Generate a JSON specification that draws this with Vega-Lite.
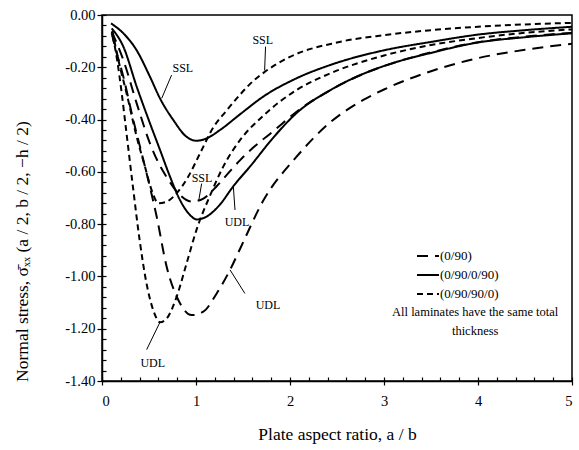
{
  "$schema": "https://vega.github.io/schema/vega-lite/v6.json",
  "width": 470,
  "height": 366,
  "autosize": "none",
  "padding": {"left": 102, "top": 15, "right": 7, "bottom": 69},
  "background": "white",
  "config": {
    "view": {"stroke": "black", "strokeWidth": 1.5},
    "font": "Liberation Serif",
    "axis": {"grid": false, "domainColor": "black", "domainWidth": 1.5, "tickColor": "black", "tickWidth": 1.2, "labelColor": "black", "labelFont": "Liberation Serif", "labelFontSize": 14.5, "titleFont": "Liberation Serif", "titleFontWeight": "normal", "titleColor": "black", "titleFontSize": 17}
  },
  "datasets": {
    "curves": [
      {"laminate": "(0/90)", "load": "SSL", "x": 0.103, "y": -0.064},
      {"laminate": "(0/90)", "load": "SSL", "x": 0.227, "y": -0.172},
      {"laminate": "(0/90)", "load": "SSL", "x": 0.369, "y": -0.338},
      {"laminate": "(0/90)", "load": "SSL", "x": 0.51, "y": -0.491},
      {"laminate": "(0/90)", "load": "SSL", "x": 0.6, "y": -0.565},
      {"laminate": "(0/90)", "load": "SSL", "x": 0.688, "y": -0.62},
      {"laminate": "(0/90)", "load": "SSL", "x": 0.83, "y": -0.689},
      {"laminate": "(0/90)", "load": "SSL", "x": 0.954, "y": -0.714},
      {"laminate": "(0/90)", "load": "SSL", "x": 1.078, "y": -0.702},
      {"laminate": "(0/90)", "load": "SSL", "x": 1.22, "y": -0.655},
      {"laminate": "(0/90)", "load": "SSL", "x": 1.36, "y": -0.598},
      {"laminate": "(0/90)", "load": "SSL", "x": 1.47, "y": -0.555},
      {"laminate": "(0/90)", "load": "SSL", "x": 1.6, "y": -0.51},
      {"laminate": "(0/90)", "load": "SSL", "x": 1.82, "y": -0.445},
      {"laminate": "(0/90)", "load": "SSL", "x": 2.07, "y": -0.37},
      {"laminate": "(0/90)", "load": "SSL", "x": 2.43, "y": -0.287},
      {"laminate": "(0/90)", "load": "SSL", "x": 2.78, "y": -0.225},
      {"laminate": "(0/90)", "load": "SSL", "x": 3.13, "y": -0.18},
      {"laminate": "(0/90)", "load": "SSL", "x": 3.5, "y": -0.143},
      {"laminate": "(0/90)", "load": "SSL", "x": 4.0, "y": -0.104},
      {"laminate": "(0/90)", "load": "SSL", "x": 4.5, "y": -0.083},
      {"laminate": "(0/90)", "load": "SSL", "x": 5.0, "y": -0.068},

      {"laminate": "(0/90)", "load": "UDL", "x": 0.103, "y": -0.07},
      {"laminate": "(0/90)", "load": "UDL", "x": 0.138, "y": -0.121},
      {"laminate": "(0/90)", "load": "UDL", "x": 0.227, "y": -0.236},
      {"laminate": "(0/90)", "load": "UDL", "x": 0.333, "y": -0.402},
      {"laminate": "(0/90)", "load": "UDL", "x": 0.44, "y": -0.555},
      {"laminate": "(0/90)", "load": "UDL", "x": 0.582, "y": -0.772},
      {"laminate": "(0/90)", "load": "UDL", "x": 0.688, "y": -0.963},
      {"laminate": "(0/90)", "load": "UDL", "x": 0.812, "y": -1.09},
      {"laminate": "(0/90)", "load": "UDL", "x": 0.954, "y": -1.148},
      {"laminate": "(0/90)", "load": "UDL", "x": 1.078, "y": -1.135},
      {"laminate": "(0/90)", "load": "UDL", "x": 1.22, "y": -1.065},
      {"laminate": "(0/90)", "load": "UDL", "x": 1.362, "y": -0.975},
      {"laminate": "(0/90)", "load": "UDL", "x": 1.468, "y": -0.895},
      {"laminate": "(0/90)", "load": "UDL", "x": 1.716, "y": -0.71},
      {"laminate": "(0/90)", "load": "UDL", "x": 2.07, "y": -0.542},
      {"laminate": "(0/90)", "load": "UDL", "x": 2.43, "y": -0.41},
      {"laminate": "(0/90)", "load": "UDL", "x": 2.78, "y": -0.325},
      {"laminate": "(0/90)", "load": "UDL", "x": 3.0, "y": -0.285},
      {"laminate": "(0/90)", "load": "UDL", "x": 3.5, "y": -0.215},
      {"laminate": "(0/90)", "load": "UDL", "x": 4.0, "y": -0.165},
      {"laminate": "(0/90)", "load": "UDL", "x": 4.5, "y": -0.133},
      {"laminate": "(0/90)", "load": "UDL", "x": 5.0, "y": -0.11},

      {"laminate": "(0/90/0/90)", "load": "SSL", "x": 0.096, "y": -0.032},
      {"laminate": "(0/90/0/90)", "load": "SSL", "x": 0.227, "y": -0.07},
      {"laminate": "(0/90/0/90)", "load": "SSL", "x": 0.367, "y": -0.134},
      {"laminate": "(0/90/0/90)", "load": "SSL", "x": 0.51, "y": -0.236},
      {"laminate": "(0/90/0/90)", "load": "SSL", "x": 0.617, "y": -0.319},
      {"laminate": "(0/90/0/90)", "load": "SSL", "x": 0.759, "y": -0.402},
      {"laminate": "(0/90/0/90)", "load": "SSL", "x": 0.9, "y": -0.466},
      {"laminate": "(0/90/0/90)", "load": "SSL", "x": 1.007, "y": -0.481},
      {"laminate": "(0/90/0/90)", "load": "SSL", "x": 1.113, "y": -0.472},
      {"laminate": "(0/90/0/90)", "load": "SSL", "x": 1.255, "y": -0.44},
      {"laminate": "(0/90/0/90)", "load": "SSL", "x": 1.468, "y": -0.38},
      {"laminate": "(0/90/0/90)", "load": "SSL", "x": 1.716, "y": -0.312},
      {"laminate": "(0/90/0/90)", "load": "SSL", "x": 2.07, "y": -0.242},
      {"laminate": "(0/90/0/90)", "load": "SSL", "x": 2.43, "y": -0.191},
      {"laminate": "(0/90/0/90)", "load": "SSL", "x": 3.0, "y": -0.135},
      {"laminate": "(0/90/0/90)", "load": "SSL", "x": 3.5, "y": -0.103},
      {"laminate": "(0/90/0/90)", "load": "SSL", "x": 4.0, "y": -0.075},
      {"laminate": "(0/90/0/90)", "load": "SSL", "x": 4.5, "y": -0.058},
      {"laminate": "(0/90/0/90)", "load": "SSL", "x": 5.0, "y": -0.045},

      {"laminate": "(0/90/0/90)", "load": "UDL", "x": 0.103, "y": -0.051},
      {"laminate": "(0/90/0/90)", "load": "UDL", "x": 0.227, "y": -0.121},
      {"laminate": "(0/90/0/90)", "load": "UDL", "x": 0.369, "y": -0.274},
      {"laminate": "(0/90/0/90)", "load": "UDL", "x": 0.51, "y": -0.414},
      {"laminate": "(0/90/0/90)", "load": "UDL", "x": 0.617, "y": -0.516},
      {"laminate": "(0/90/0/90)", "load": "UDL", "x": 0.723, "y": -0.618},
      {"laminate": "(0/90/0/90)", "load": "UDL", "x": 0.83, "y": -0.708},
      {"laminate": "(0/90/0/90)", "load": "UDL", "x": 0.936, "y": -0.765},
      {"laminate": "(0/90/0/90)", "load": "UDL", "x": 1.007, "y": -0.782},
      {"laminate": "(0/90/0/90)", "load": "UDL", "x": 1.113, "y": -0.771},
      {"laminate": "(0/90/0/90)", "load": "UDL", "x": 1.255, "y": -0.725},
      {"laminate": "(0/90/0/90)", "load": "UDL", "x": 1.397, "y": -0.655},
      {"laminate": "(0/90/0/90)", "load": "UDL", "x": 1.574, "y": -0.58},
      {"laminate": "(0/90/0/90)", "load": "UDL", "x": 1.82, "y": -0.47},
      {"laminate": "(0/90/0/90)", "load": "UDL", "x": 2.07, "y": -0.375},
      {"laminate": "(0/90/0/90)", "load": "UDL", "x": 2.43, "y": -0.287},
      {"laminate": "(0/90/0/90)", "load": "UDL", "x": 2.78, "y": -0.225},
      {"laminate": "(0/90/0/90)", "load": "UDL", "x": 3.13, "y": -0.18},
      {"laminate": "(0/90/0/90)", "load": "UDL", "x": 3.5, "y": -0.145},
      {"laminate": "(0/90/0/90)", "load": "UDL", "x": 4.0, "y": -0.105},
      {"laminate": "(0/90/0/90)", "load": "UDL", "x": 4.5, "y": -0.085},
      {"laminate": "(0/90/0/90)", "load": "UDL", "x": 5.0, "y": -0.07},

      {"laminate": "(0/90/90/0)", "load": "SSL", "x": 0.11, "y": -0.06},
      {"laminate": "(0/90/90/0)", "load": "SSL", "x": 0.174, "y": -0.172},
      {"laminate": "(0/90/90/0)", "load": "SSL", "x": 0.262, "y": -0.3},
      {"laminate": "(0/90/90/0)", "load": "SSL", "x": 0.369, "y": -0.466},
      {"laminate": "(0/90/90/0)", "load": "SSL", "x": 0.457, "y": -0.58},
      {"laminate": "(0/90/90/0)", "load": "SSL", "x": 0.528, "y": -0.67},
      {"laminate": "(0/90/90/0)", "load": "SSL", "x": 0.6, "y": -0.72},
      {"laminate": "(0/90/90/0)", "load": "SSL", "x": 0.688, "y": -0.714},
      {"laminate": "(0/90/90/0)", "load": "SSL", "x": 0.794, "y": -0.682},
      {"laminate": "(0/90/90/0)", "load": "SSL", "x": 0.918, "y": -0.618},
      {"laminate": "(0/90/90/0)", "load": "SSL", "x": 1.043, "y": -0.529},
      {"laminate": "(0/90/90/0)", "load": "SSL", "x": 1.184, "y": -0.43},
      {"laminate": "(0/90/90/0)", "load": "SSL", "x": 1.326, "y": -0.365},
      {"laminate": "(0/90/90/0)", "load": "SSL", "x": 1.468, "y": -0.305},
      {"laminate": "(0/90/90/0)", "load": "SSL", "x": 1.6, "y": -0.255},
      {"laminate": "(0/90/90/0)", "load": "SSL", "x": 1.73, "y": -0.218},
      {"laminate": "(0/90/90/0)", "load": "SSL", "x": 2.0, "y": -0.16},
      {"laminate": "(0/90/90/0)", "load": "SSL", "x": 2.5, "y": -0.105},
      {"laminate": "(0/90/90/0)", "load": "SSL", "x": 3.0, "y": -0.077},
      {"laminate": "(0/90/90/0)", "load": "SSL", "x": 3.5, "y": -0.058},
      {"laminate": "(0/90/90/0)", "load": "SSL", "x": 4.0, "y": -0.045},
      {"laminate": "(0/90/90/0)", "load": "SSL", "x": 4.5, "y": -0.036},
      {"laminate": "(0/90/90/0)", "load": "SSL", "x": 5.0, "y": -0.03},

      {"laminate": "(0/90/90/0)", "load": "UDL", "x": 0.114, "y": -0.08},
      {"laminate": "(0/90/90/0)", "load": "UDL", "x": 0.16, "y": -0.17},
      {"laminate": "(0/90/90/0)", "load": "UDL", "x": 0.21, "y": -0.3},
      {"laminate": "(0/90/90/0)", "load": "UDL", "x": 0.26, "y": -0.45},
      {"laminate": "(0/90/90/0)", "load": "UDL", "x": 0.33, "y": -0.66},
      {"laminate": "(0/90/90/0)", "load": "UDL", "x": 0.4, "y": -0.86},
      {"laminate": "(0/90/90/0)", "load": "UDL", "x": 0.47, "y": -1.02},
      {"laminate": "(0/90/90/0)", "load": "UDL", "x": 0.546, "y": -1.13},
      {"laminate": "(0/90/90/0)", "load": "UDL", "x": 0.617, "y": -1.175},
      {"laminate": "(0/90/90/0)", "load": "UDL", "x": 0.69, "y": -1.16},
      {"laminate": "(0/90/90/0)", "load": "UDL", "x": 0.794, "y": -1.078},
      {"laminate": "(0/90/90/0)", "load": "UDL", "x": 0.9, "y": -0.95},
      {"laminate": "(0/90/90/0)", "load": "UDL", "x": 1.007, "y": -0.82},
      {"laminate": "(0/90/90/0)", "load": "UDL", "x": 1.15, "y": -0.69},
      {"laminate": "(0/90/90/0)", "load": "UDL", "x": 1.29, "y": -0.58},
      {"laminate": "(0/90/90/0)", "load": "UDL", "x": 1.47, "y": -0.478},
      {"laminate": "(0/90/90/0)", "load": "UDL", "x": 1.716, "y": -0.385},
      {"laminate": "(0/90/90/0)", "load": "UDL", "x": 2.07, "y": -0.287},
      {"laminate": "(0/90/90/0)", "load": "UDL", "x": 2.43, "y": -0.223},
      {"laminate": "(0/90/90/0)", "load": "UDL", "x": 3.0, "y": -0.155},
      {"laminate": "(0/90/90/0)", "load": "UDL", "x": 3.5, "y": -0.115},
      {"laminate": "(0/90/90/0)", "load": "UDL", "x": 4.0, "y": -0.088},
      {"laminate": "(0/90/90/0)", "load": "UDL", "x": 4.5, "y": -0.068},
      {"laminate": "(0/90/90/0)", "load": "UDL", "x": 5.0, "y": -0.055}
    ],
    "labels": [
      {"text": "SSL", "x": 1.71, "y": -0.096},
      {"text": "SSL", "x": 0.86, "y": -0.203},
      {"text": "SSL", "x": 1.064, "y": -0.624},
      {"text": "UDL", "x": 1.436, "y": -0.79},
      {"text": "UDL", "x": 0.54, "y": -1.33},
      {"text": "UDL", "x": 1.766, "y": -1.11}
    ],
    "leaders": [
      {"x": 1.74, "y": -0.121, "x2": 1.73, "y2": -0.212},
      {"x": 0.74, "y": -0.23, "x2": 0.635, "y2": -0.319},
      {"x": 1.06, "y": -0.645, "x2": 1.03, "y2": -0.708},
      {"x": 1.415, "y": -0.746, "x2": 1.397, "y2": -0.655},
      {"x": 0.475, "y": -1.28, "x2": 0.617, "y2": -1.175},
      {"x": 1.52, "y": -1.065, "x2": 1.362, "y2": -0.975}
    ],
    "note": [
      {"text": "All laminates have the same total", "x": 3.97, "y": -1.136},
      {"text": "thickness", "x": 3.97, "y": -1.21}
    ]
  },
  "resolve": {"axis": {"x": "independent", "y": "independent"}},
  "layer": [
    {
      "data": {"name": "curves"},
      "mark": {"type": "line", "color": "black", "strokeWidth": 2, "interpolate": "monotone", "clip": true},
      "encoding": {
        "x": {"field": "x", "type": "quantitative", "scale": {"domain": [0, 5], "nice": false},
          "axis": {"orient": "bottom", "values": [0, 1, 2, 3, 4, 5], "tickSize": 4, "labelPadding": 9, "title": "Plate aspect ratio, a / b", "titlePadding": 18, "titleFontSize": 17.5, "format": "d"}},
        "y": {"field": "y", "type": "quantitative", "scale": {"domain": [-1.4, 0], "nice": false, "zero": false},
          "axis": {"orient": "left", "values": [0, -0.2, -0.4, -0.6, -0.8, -1.0, -1.2, -1.4], "tickSize": 5, "labelPadding": 2,
            "labelExpr": "datum.value == 0 ? '0.00' : '-' + format(-datum.value, '.2f')",
            "title": "Normal stress, σ̄ₓₓ (a / 2, b / 2, −h / 2)", "titleX": -80, "titleY": 236, "titleBaseline": "middle", "titleAlign": "center", "titleAngle": -90, "titleFontSize": 17.5}},
        "strokeDash": {"field": "laminate", "type": "nominal",
          "scale": {"domain": ["(0/90)", "(0/90/0/90)", "(0/90/90/0)"], "range": [[11, 7], [1, 0], [6, 4]]},
          "legend": {"orient": "none", "legendX": 314, "legendY": 229, "title": null, "symbolType": "stroke", "symbolSize": 484, "symbolStrokeWidth": 2, "symbolStrokeColor": "black", "labelFont": "Liberation Serif", "labelFontSize": 13, "labelColor": "black", "rowPadding": -4, "labelOffset": 0}},
        "detail": {"field": "load", "type": "nominal"}
      }
    },
    {
      "data": {"name": "leaders"},
      "mark": {"type": "rule", "color": "black", "strokeWidth": 1},
      "encoding": {
        "x": {"field": "x", "type": "quantitative", "scale": {"domain": [0, 5]},
          "axis": {"orient": "bottom", "values": [0, 0.2, 0.4, 0.6, 0.8, 1, 1.2, 1.4, 1.6, 1.8, 2, 2.2, 2.4, 2.6, 2.8, 3, 3.2, 3.4, 3.6, 3.8, 4, 4.2, 4.4, 4.6, 4.8, 5], "tickSize": -4, "labels": false, "domain": false, "title": null}},
        "y": {"field": "y", "type": "quantitative", "scale": {"domain": [-1.4, 0]},
          "axis": {"orient": "left", "values": [0, -0.04, -0.08, -0.12, -0.16, -0.2, -0.24, -0.28, -0.32, -0.36, -0.4, -0.44, -0.48, -0.52, -0.56, -0.6, -0.64, -0.68, -0.72, -0.76, -0.8, -0.84, -0.88, -0.92, -0.96, -1.0, -1.04, -1.08, -1.12, -1.16, -1.2, -1.24, -1.28, -1.32, -1.36, -1.4], "tickSize": -4, "labels": false, "domain": false, "title": null}},
        "x2": {"field": "x2"},
        "y2": {"field": "y2"}
      }
    },
    {
      "data": {"name": "labels"},
      "mark": {"type": "text", "font": "Liberation Serif", "fontSize": 12, "color": "black", "align": "center", "baseline": "middle"},
      "encoding": {
        "x": {"field": "x", "type": "quantitative", "axis": null},
        "y": {"field": "y", "type": "quantitative", "axis": null},
        "text": {"field": "text"}
      }
    },
    {
      "data": {"name": "note"},
      "mark": {"type": "text", "font": "Liberation Serif", "fontSize": 12.5, "color": "black", "align": "center", "baseline": "middle"},
      "encoding": {
        "x": {"field": "x", "type": "quantitative", "axis": null},
        "y": {"field": "y", "type": "quantitative", "axis": null},
        "text": {"field": "text"}
      }
    }
  ]
}
